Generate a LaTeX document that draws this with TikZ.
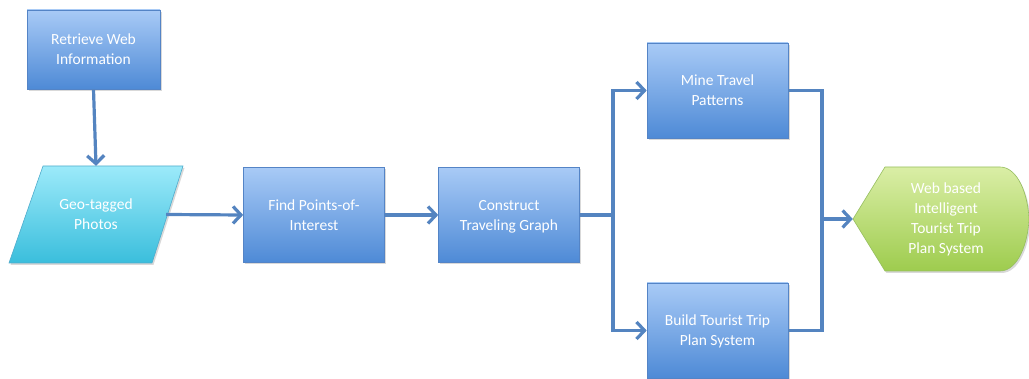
\documentclass[tikz,border=0pt]{standalone}
\usepackage{fontspec}
\setmainfont{Carlito}
\usetikzlibrary{arrows.meta,shadows}
\definecolor{boxtop}{RGB}{168,202,246}
\definecolor{boxbot}{RGB}{78,138,214}
\definecolor{boxline}{RGB}{84,132,198}
\definecolor{cyantop}{RGB}{156,234,250}
\definecolor{cyanbot}{RGB}{58,190,220}
\definecolor{cyanline}{RGB}{80,172,204}
\definecolor{greentop}{RGB}{218,238,166}
\definecolor{greenbot}{RGB}{158,204,78}
\definecolor{greenline}{RGB}{150,190,95}
\definecolor{conncol}{RGB}{84,132,192}
\tikzset{
  txt/.style={text=white, align=center, font=\fontsize{15.5}{20}\selectfont},
  bluebox/.style={txt, draw=boxline, line width=0.6pt, top color=boxtop, bottom color=boxbot,
    minimum width=141pt, minimum height=95pt, inner sep=0pt, text depth=-5pt,
    drop shadow={opacity=0.3, shadow xshift=1.5pt, shadow yshift=-2pt}},
  ghost/.style={txt, minimum width=140pt, minimum height=97pt, inner sep=0pt},
  wire/.style={draw=conncol, line width=3.2pt},
  conn/.style={wire, -{Straight Barb[length=8pt,width=17pt,line width=3.2pt]}},
  shapeshadow/.style={drop shadow={opacity=0.3, shadow xshift=1.5pt, shadow yshift=-2pt}}
}
\begin{document}
\begin{tikzpicture}[x=1pt,y=-1pt]
\useasboundingbox (0,0) rectangle (1029,379);
% parallelogram
\path[shapeshadow, draw=cyanline, line width=0.6pt, top color=cyantop, bottom color=cyanbot]
  (9,263) -- (43,166) -- (183,166) -- (152,263) -- cycle;
% green display shape
\path[shapeshadow, draw=greenline, line width=0.6pt, top color=greentop, bottom color=greenbot]
  (853,219) -- (885,167) -- (1000,167) .. controls (1018,167) and (1028,195) .. (1029,219)
  .. controls (1028,243) and (1018,271) .. (1000,271) -- (885,271) -- cycle;

\node[bluebox, minimum width=133pt, minimum height=79pt] (ret) at (93.5,49.5) {Retrieve Web\\Information};
\node[ghost] (geo) at (96,214.5) {Geo-tagged\\Photos};
\node[bluebox] (poi) at (314,215) {Find Points-of-\\Interest};
\node[bluebox] (con) at (509,215) {Construct\\Traveling Graph};
\node[bluebox] (mine) at (717.5,90.5) {Mine Travel\\Patterns};
\node[bluebox] (build) at (717.5,330.5) {Build Tourist Trip\\Plan System};
\node[ghost, minimum width=176pt, minimum height=104pt] (web) at (941,219)
  {\hspace*{10pt}Web based\\\hspace*{10pt}Intelligent\\\hspace*{10pt}Tourist Trip\\\hspace*{10pt}Plan System};

\coordinate (split) at (613,215);
\coordinate (join) at (822,219);

\draw[conn] (ret.south) -- (geo.north);
\draw[conn] (geo.east) -- (poi.west);
\draw[conn] (poi.east) -- (con.west);
\draw[wire] (con.east) -- (split);
\draw[conn] (split) |- (mine.west);
\draw[conn] (split) |- (build.west);
\draw[wire] (mine.east) -| (join);
\draw[wire] (build.east) -| (join);
\draw[conn] (join) -- (web.west);
\end{tikzpicture}
\end{document}
